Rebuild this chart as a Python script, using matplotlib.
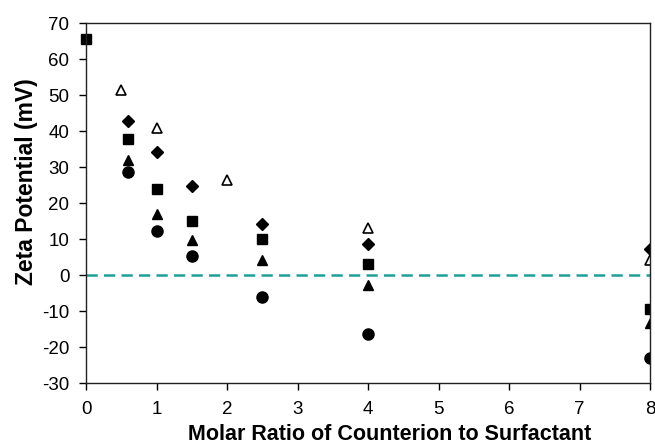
import matplotlib.pyplot as plt

plt.rcParams['font.family'] = ['Liberation Sans', 'DejaVu Sans']
plt.rcParams['axes.unicode_minus'] = False

# filled squares
sq_x = [0, 0.6, 1, 1.5, 2.5, 4, 8]
sq_y = [65.5, 37.8, 23.9, 15.0, 10.1, 3.1, -9.4]
# filled diamonds
dia_x = [0.6, 1, 1.5, 2.5, 4, 8]
dia_y = [42.7, 34.1, 24.8, 14.2, 8.6, 7.1]
# filled triangles
tri_x = [0.6, 1, 1.5, 2.5, 4, 8]
tri_y = [32.0, 16.9, 9.7, 4.2, -2.8, -13.4]
# filled circles
cir_x = [0.6, 1, 1.5, 2.5, 4, 8]
cir_y = [28.5, 12.3, 5.3, -6.0, -16.3, -23.0]
# open triangles
otri_x = [0.5, 1, 2, 4, 8]
otri_y = [51.3, 40.9, 26.4, 13.0, 4.2]

fig = plt.figure(figsize=(6.55, 4.46), dpi=100)
ax = fig.add_axes([86 / 655, 1 - 383 / 446, 564 / 655, 360 / 446])

ax.axhline(0, color='#1f9e9a', linestyle=(0, (4.5, 2.5)), linewidth=1.8, zorder=1)

ax.plot(dia_x, dia_y, 'D', color='black', markersize=6, linestyle='none')
ax.plot(tri_x, tri_y, '^', color='black', markersize=7.5, linestyle='none')
ax.plot(cir_x, cir_y, 'o', color='black', markersize=8, linestyle='none')
ax.plot(otri_x, otri_y, '^', markerfacecolor='white', markeredgecolor='black',
        markeredgewidth=1.2, markersize=7.5, linestyle='none')
ax.plot(sq_x[1:], sq_y[1:], 's', color='black', markersize=7.2, linestyle='none')
# the first point sits on the left axis and is not clipped
ax.plot(sq_x[:1], sq_y[:1], 's', color='black', markersize=7.2, linestyle='none', clip_on=False)

ax.set_xlim(0, 8)
ax.set_ylim(-30, 70)
ax.set_xticks(range(0, 9))
ax.set_yticks(range(-30, 71, 10))
ax.tick_params(direction='out', length=5, width=1, labelsize=13.5)
ax.tick_params(axis='y', pad=7)
ax.tick_params(axis='x', pad=8)
for s in ax.spines.values():
    s.set_linewidth(1.0)
    s.set_color('#222222')

ax.set_xlabel('Molar Ratio of Counterion to Surfactant', fontsize=15.5, fontweight='bold')
ax.set_ylabel('Zeta Potential (mV)', fontsize=16.5, fontweight='bold')
ax.xaxis.set_label_coords(0.538, -0.113)
ax.yaxis.set_label_coords(-0.085, 0.558)

fig.savefig('out.png', dpi=100)
